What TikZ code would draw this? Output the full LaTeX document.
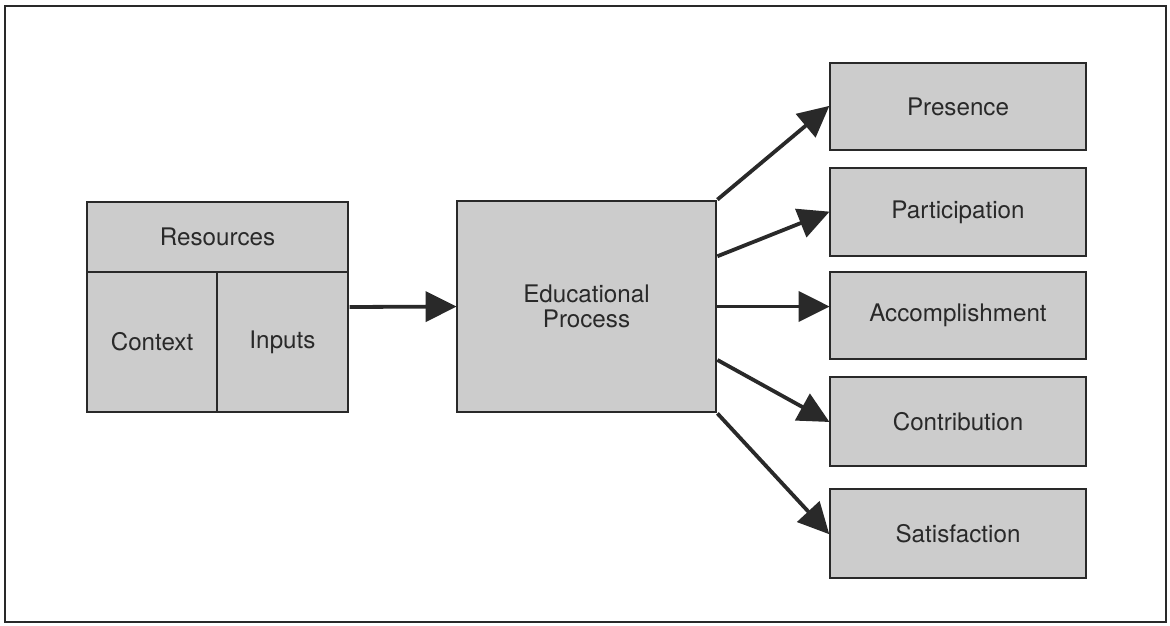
\documentclass[tikz,border=0pt]{standalone}
\usepackage{fontspec}
\setmainfont{TeX Gyre Heros}
\usetikzlibrary{arrows.meta,calc,fit}
\definecolor{boxfill}{gray}{0.80}
\definecolor{ink}{gray}{0.16}
\tikzset{
  cell/.style={draw=ink, line width=2.8pt, fill=boxfill, text=ink, inner sep=0pt,
    font=\fontsize{24.2}{25}\selectfont, align=center},
  conn/.style={draw=ink, line width=3.8pt, -{Triangle[length=31pt,width=30pt]}, shorten >=-1pt},
}
\begin{document}
\begin{tikzpicture}[x=1pt,y=-1pt]
\useasboundingbox (0,0) rectangle (1170,625);
\draw[ink, line width=2pt] (5,6) rectangle (1166,622);
% left block
\node[cell, minimum width=261pt, minimum height=70pt] (res) at (217.5,237) {Resources};
\node[cell, minimum width=130pt, minimum height=140pt] (ctx) at (152,342) {Context};
\node[cell, minimum width=131pt, minimum height=140pt] (inp) at (282.5,342) {Inputs};
\node[fit=(res)(ctx)(inp), inner sep=0pt] (block) {};
% process
\node[cell, minimum width=259pt, minimum height=211pt] (edu) at (586.5,306.5) {Educational\\Process};
% outcomes
\node[cell, minimum width=256pt, minimum height=87pt] (pre) at (958,106.5) {Presence};
\node[cell, minimum width=256pt, minimum height=88pt] (par) at (958,212) {Participation};
\node[cell, minimum width=256pt, minimum height=87pt] (acc) at (958,315.5) {Accomplishment};
\node[cell, minimum width=256pt, minimum height=89pt] (con) at (958,421.5) {Contribution};
\node[cell, minimum width=256pt, minimum height=89pt] (sat) at (958,533.5) {Satisfaction};
% connectors
\draw[conn] (block.east) -- (edu.west);
\draw[conn] (edu.north east) -- (pre.west);
\draw[conn] ($(edu.north east)!0.265!(edu.south east)$) -- (par.west);
\draw[conn] (edu.east) -- (edu.east -| acc.west);
\draw[conn] ($(edu.north east)!0.75!(edu.south east)$) -- (con.west);
\draw[conn] (edu.south east) -- (sat.west);
\end{tikzpicture}
\end{document}
